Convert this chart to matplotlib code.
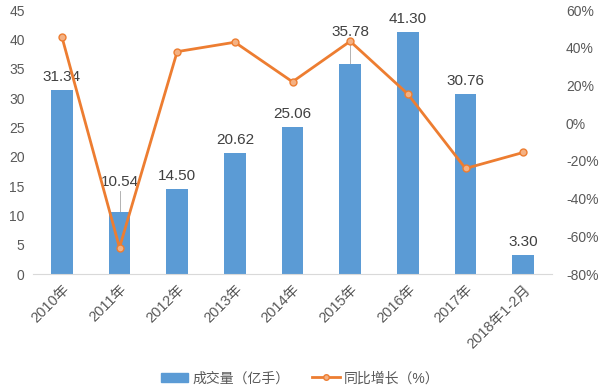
import numpy as np
import matplotlib.pyplot as plt
from matplotlib.lines import Line2D
from matplotlib.patches import Patch

plt.rcParams['font.family'] = ['Liberation Sans', 'Noto Sans CJK SC', 'DejaVu Sans']

# data
years = ['2010年', '2011年', '2012年', '2013年', '2014年', '2015年', '2016年', '2017年', '2018年1-2月']
volume = [31.34, 10.54, 14.50, 20.62, 25.06, 35.78, 41.30, 30.76, 3.30]
growth = [46, -66, 38, 43, 22, 43.5, 15.5, -24, -15.5]

bar_col = '#5b9bd5'
line_col = '#ed7d31'
txt_col = '#595959'

fig = plt.figure(figsize=(6, 3.92), dpi=100)
ax = fig.add_axes([0.055, 0.301, 0.865, 0.673])
x = np.arange(len(years))

ax.bar(x, volume, width=0.37, color=bar_col, zorder=2)
ax.set_ylim(0, 45)
ax.set_yticks(np.arange(0, 46, 5))
ax.set_xlim(-0.5, 8.5)
ax.set_xticks(x)
ax.set_xticklabels(years, rotation=45, ha='right', rotation_mode='anchor', fontsize=10.5, color=txt_col)
ax.tick_params(axis='y', labelsize=10, colors=txt_col, length=0, pad=6)
ax.tick_params(axis='x', length=0, pad=6)
for s in ['top', 'right', 'left']:
    ax.spines[s].set_visible(False)
ax.spines['bottom'].set_color('#d9d9d9')

# value labels
offsets = {1: 4.0, 5: 4.3}
for i, v in enumerate(volume):
    dy = offsets.get(i, 1.0)
    ax.text(i, v + dy, '%.2f' % v, ha='center', va='bottom', fontsize=11, color='#404040', zorder=5)
    if i in offsets:
        ax.plot([i, i], [v, v + dy - 0.3], color='#a6a6a6', lw=0.6, zorder=1)

ax2 = ax.twinx()
ax2.plot(x, growth, color=line_col, lw=2, marker='o', markersize=5,
         markerfacecolor='#f4b183', markeredgecolor=line_col, markeredgewidth=1, zorder=4)
ax2.set_ylim(-80, 60)
ax2.set_yticks(np.arange(-80, 61, 20))
ax2.set_yticklabels(['%d%%' % t for t in range(-80, 61, 20)])
ax2.tick_params(axis='y', labelsize=10, colors=txt_col, length=0, pad=10)
for s in ['top', 'right', 'left', 'bottom']:
    ax2.spines[s].set_visible(False)

handles = [Patch(color=bar_col),
           Line2D([0], [0], color=line_col, lw=2, marker='o', markersize=4,
                  markerfacecolor='#f4b183', markeredgecolor=line_col)]
fig.legend(handles, ['成交量（亿手）', '同比增长（%）'], loc='center', bbox_to_anchor=(0.5, 0.035),
           ncol=2, frameon=False, fontsize=10, labelcolor=txt_col, handlelength=2.0,
           handletextpad=0.3, columnspacing=1.6)

fig.savefig('out.png', dpi=100)
